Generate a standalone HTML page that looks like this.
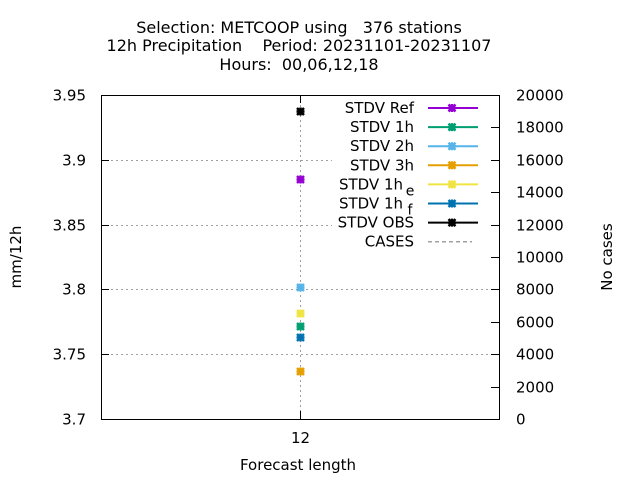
<!DOCTYPE html>
<html><head><meta charset="utf-8"><style>
body{margin:0;background:#fff;}
svg{display:block;font-family:"DejaVu Sans","Liberation Sans",sans-serif;}
</style></head><body>
<svg id="chart" width="640" height="480" viewBox="0 0 640 480">
<g font-size="16" text-anchor="middle" fill="#000">
<text x="299" y="33" xml:space="preserve">Selection: METCOOP using   376 stations</text>
<text x="299" y="51" xml:space="preserve">12h Precipitation    Period: 20231101-20231107</text>
<text x="299" y="70" xml:space="preserve">Hours:  00,06,12,18</text>
</g>
<g id="grid"></g>
<g id="axes"></g>
<g id="legend"></g>
<g id="marks"></g>
<text x="21" y="257" font-size="15" text-anchor="middle" transform="rotate(-90 21 257)">mm/12h</text>
<text x="612" y="257" font-size="15" text-anchor="middle" transform="rotate(-90 612 257)">No cases</text>
<text x="298" y="470" font-size="15" text-anchor="middle">Forecast length</text>
</svg>
<script>
const categories = ["12"];
const seriesNames = ["STDV Ref","STDV 1h","STDV 2h","STDV 3h","STDV 1h_e","STDV 1h_f","STDV OBS"];
const seriesValues = [3.885,3.772,3.802,3.737,3.782,3.763,3.938];
const seriesColors = ["#9400d3","#009e73","#56b4e9","#e69f00","#f0e442","#0072b2","#000000"];
const yTicks = [3.7,3.75,3.8,3.85,3.9,3.95];
const yTickLabels = ["3.7","3.75","3.8","3.85","3.9","3.95"];
const y2Ticks = [0,2000,4000,6000,8000,10000,12000,14000,16000,18000,20000];

const L=101,R=499,T=95,B=419;
const yMin=3.7,yMax=3.95,y2Max=20000;
const NS="http://www.w3.org/2000/svg";
function y(v){return B-(v-yMin)/(yMax-yMin)*(B-T);}
function y2(v){return B-v/y2Max*(B-T);}
function x(i){return L+(i+0.5)*(R-L)/categories.length;}
function mk(tag,attrs,parent){const e=document.createElementNS(NS,tag);for(const k in attrs)e.setAttribute(k,attrs[k]);parent.appendChild(e);return e;}
const grid=document.getElementById('grid'),axes=document.getElementById('axes'),legend=document.getElementById('legend'),marks=document.getElementById('marks');

yTicks.forEach((t,i)=>{
  const yy=Math.round(y(t))+0.5;
  if(i>0&&i<yTicks.length-1){
    const g=mk('line',{x1:L,x2:R,y1:yy,y2:yy,stroke:'#a0a0a0','stroke-dasharray':'2,3'},grid);
    
    
  }
  mk('line',{x1:L,x2:L+8,y1:yy,y2:yy,stroke:'#000'},axes);
  const lb=mk('text',{x:L-15,y:yy+5,'font-size':15,'text-anchor':'end'},axes);
  lb.textContent=yTickLabels[i];
  
  
});
y2Ticks.forEach(t=>{
  const yy=Math.round(y2(t))+0.5;
  mk('line',{x1:R-8,x2:R,y1:yy,y2:yy,stroke:'#000'},axes);
  const lb=mk('text',{x:R+17,y:yy+5,'font-size':15},axes);
  lb.textContent=String(t);
  
  
});
categories.forEach((c,i)=>{
  const xx=Math.round(x(i))+0.5;
  const g=mk('line',{x1:xx,x2:xx,y1:T,y2:B,stroke:'#a0a0a0','stroke-dasharray':'2,3'},grid);
  
  
  mk('line',{x1:xx,x2:xx,y1:B-8,y2:B,stroke:'#000'},axes);
  mk('line',{x1:xx,x2:xx,y1:T,y2:T+8,stroke:'#000'},axes);
  const lb=mk('text',{x:xx,y:B+24,'font-size':15,'text-anchor':'middle'},axes);
  lb.textContent=c;
  
  
});
mk('rect',{x:L+0.5,y:T+0.5,width:R-L,height:B-T,fill:'none',stroke:'#000'},axes);

mk('rect',{x:332,y:96,width:158,height:160,fill:'#fff'},legend);
const lbls=["STDV Ref","STDV 1h","STDV 2h","STDV 3h","STDV 1h","STDV 1h","STDV OBS","CASES"];
const subs=["","","","","e","f","",""];
function star(cx,cy,col,parent){
  return mk('path',{d:`M${cx-3.5},${cy-3.5}L${cx+3.5},${cy+3.5}M${cx-3.5},${cy+3.5}L${cx+3.5},${cy-3.5}M${cx-4},${cy}L${cx+4},${cy}M${cx},${cy-4}L${cx},${cy+4}`,stroke:col,'stroke-width':2.5,fill:'none'},parent);
}
lbls.forEach((s,i)=>{
  const yy=108+i*19.1;
  const g=mk('g',{},legend);
  
  
  const t=mk('text',{x:subs[i]?403:414,y:yy+5,'font-size':15,'text-anchor':'end'},g);
  t.textContent=s;
  if(subs[i]){const st=mk('text',{x:410,y:yy+11,'font-size':14,'text-anchor':'middle'},g);st.textContent=subs[i];}
  if(i<7){
    mk('line',{x1:428,x2:478,y1:yy,y2:yy,stroke:seriesColors[i],'stroke-width':2},g);
    star(452,yy,seriesColors[i],g);
  } else {
    mk('line',{x1:428,x2:472,y1:yy,y2:yy,stroke:'#a0a0a0','stroke-width':1.5,'stroke-dasharray':'4,3'},g);
  }
});

seriesValues.forEach((v,i)=>{
  const p=star(Math.round(x(0))+0.5,Math.round(y(v))+0.5,seriesColors[i],marks);
  
  
});
</script>
</body></html>
